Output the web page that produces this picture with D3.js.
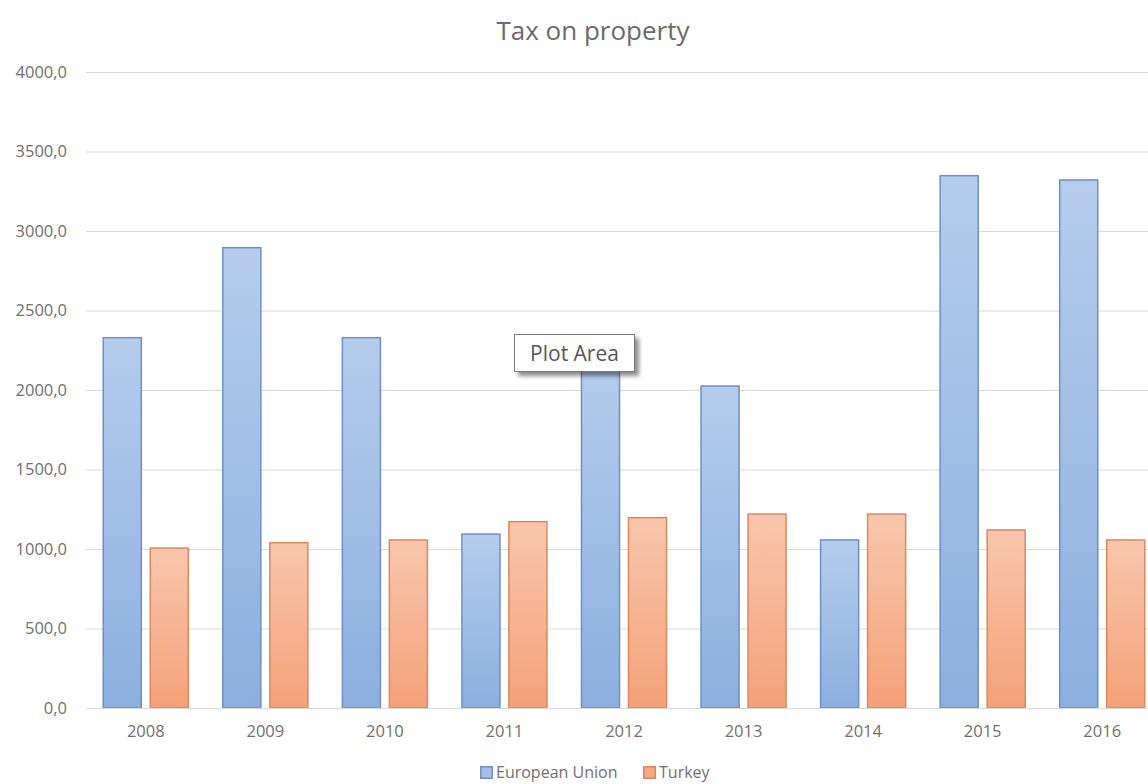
<!DOCTYPE html>
<html>
<head>
<meta charset="utf-8">
<script src="https://cdn.jsdelivr.net/npm/d3@7/dist/d3.min.js"></script>
<style>
  html, body { margin: 0; padding: 0; background: #ffffff; overflow: hidden; }
  svg { display: block; }
  text { font-family: "Open Sans", "Noto Sans", sans-serif; }
</style>
</head>
<body>
<svg id="chart" width="1148" height="784"></svg>
<script>
// Tax on property, 2008–2016
const years = ["2008", "2009", "2010", "2011", "2012", "2013", "2014", "2015", "2016"];
const seriesNames = ["European Union", "Turkey"];
const euValues = [2329, 2895, 2329, 1094, 2200, 2025, 1057, 3348, 3321];
const turkeyValues = [1006, 1040, 1057, 1172, 1197, 1220, 1220, 1120, 1057];
const yTicks = [0, 500, 1000, 1500, 2000, 2500, 3000, 3500, 4000];

const W = 1148, H = 784;
const margin = { left: 86, top: 72, bottom: 76 };
const plotRight = 1162;          // plot area runs past the right edge of the frame
const plotBottom = H - margin.bottom;

const svg = d3.select("#chart");

// Gradient fills for the two series
const defs = svg.append("defs");
function grad(id, top, bottom) {
  const g = defs.append("linearGradient").attr("id", id)
    .attr("x1", 0).attr("y1", 0).attr("x2", 0).attr("y2", 1);
  g.append("stop").attr("offset", "0%").attr("stop-color", top);
  g.append("stop").attr("offset", "100%").attr("stop-color", bottom);
}
grad("gEU", "#b5ccec", "#8cafdf");
grad("gTR", "#f8c6ad", "#f4a178");
const seriesFill = ["url(#gEU)", "url(#gTR)"];
const seriesStroke = ["#6e91c3", "#d98a5f"];
const legendFill = ["#a3bfe6", "#f5aa84"];

const shadow = defs.append("filter").attr("id", "shadow")
  .attr("x", "-20%").attr("y", "-30%").attr("width", "150%").attr("height", "180%");
shadow.append("feGaussianBlur").attr("in", "SourceAlpha").attr("stdDeviation", 2.2).attr("result", "b");
shadow.append("feOffset").attr("in", "b").attr("dx", 4).attr("dy", 4).attr("result", "o");
shadow.append("feComponentTransfer").attr("in", "o").attr("result", "s")
  .append("feFuncA").attr("type", "linear").attr("slope", 0.45);
const fm = shadow.append("feMerge");
fm.append("feMergeNode").attr("in", "s");
fm.append("feMergeNode").attr("in", "SourceGraphic");

// Scales
const y = d3.scaleLinear().domain([0, 4000]).range([plotBottom, margin.top]);
const x0 = d3.scaleBand().domain(years).range([margin.left, plotRight]).padding(0);
const x1 = d3.scaleBand().domain(seriesNames).range([0, x0.bandwidth()])
  .paddingInner(0.19).paddingOuter(0.367);

const fmt = d3.formatLocale({ decimal: ",", thousands: "", grouping: [3], currency: ["", ""] }).format(".1f");

// Title
svg.append("text")
  .attr("x", 593).attr("y", 40)
  .attr("text-anchor", "middle")
  .attr("font-size", 26)
  .attr("fill", "#6a6a6a")
  .text("Tax on property");

// Y axis with gridlines
const yAxis = d3.axisLeft(y)
  .tickValues(yTicks)
  .tickFormat(fmt)
  .tickSize(-(plotRight - margin.left))
  .tickPadding(19);
const gy = svg.append("g")
  .attr("transform", `translate(${margin.left},0)`)
  .call(yAxis);
gy.select(".domain").remove();
gy.selectAll(".tick line").attr("stroke", "#d9d9d9").attr("stroke-width", 1);
gy.selectAll(".tick text")
  .attr("font-size", 16.5)
  .attr("fill", "#707070")
  .attr("font-family", "'Open Sans', 'Noto Sans', sans-serif");

// Bars
const rows = years.map((yr, i) => ({ year: yr, values: [euValues[i], turkeyValues[i]] }));
const groups = svg.append("g").selectAll("g")
  .data(rows).join("g")
  .attr("transform", d => `translate(${x0(d.year)},0)`);
groups.selectAll("rect")
  .data(d => d.values.map((v, k) => ({ name: seriesNames[k], k, v })))
  .join("rect")
  .attr("x", d => x1(d.name))
  .attr("y", d => y(d.v))
  .attr("width", x1.bandwidth())
  .attr("height", d => y(0) - y(d.v))
  .attr("fill", d => seriesFill[d.k])
  .attr("stroke", d => seriesStroke[d.k])
  .attr("stroke-width", 1.5);

// Category axis
const xAxis = d3.axisBottom(x0).tickSize(0).tickPadding(17);
const gx = svg.append("g")
  .attr("transform", `translate(0,${plotBottom})`)
  .call(xAxis);
gx.select(".domain").attr("stroke", "#d9d9d9");
gx.selectAll(".tick text")
  .attr("font-size", 16.5)
  .attr("fill", "#707070")
  .attr("font-family", "'Open Sans', 'Noto Sans', sans-serif");

// Legend
const legendItems = [
  { name: seriesNames[0], x: 480 },
  { name: seriesNames[1], x: 643 }
];
const lg = svg.append("g").selectAll("g")
  .data(legendItems).join("g")
  .attr("transform", d => `translate(${d.x},766)`);
lg.append("rect")
  .attr("x", 0.75).attr("y", 0.75).attr("width", 11.5).attr("height", 11.5)
  .attr("fill", (d, i) => legendFill[i])
  .attr("stroke", (d, i) => seriesStroke[i])
  .attr("stroke-width", 1.5);
lg.append("text")
  .attr("x", 16).attr("y", 12)
  .attr("font-size", 16)
  .attr("fill", "#707070")
  .text(d => d.name);

// Hover tooltip over the plot area
const tip = svg.append("g").attr("transform", "translate(514,334)");
tip.append("rect")
  .attr("x", 0.5).attr("y", 0.5).attr("width", 120).attr("height", 37)
  .attr("fill", "#ffffff")
  .attr("stroke", "#7a7a7a")
  .attr("stroke-width", 1)
  .attr("filter", "url(#shadow)");
tip.append("text")
  .attr("x", 60.5).attr("y", 27)
  .attr("text-anchor", "middle")
  .attr("font-size", 21)
  .attr("fill", "#555555")
  .text("Plot Area");
</script>
</body>
</html>
